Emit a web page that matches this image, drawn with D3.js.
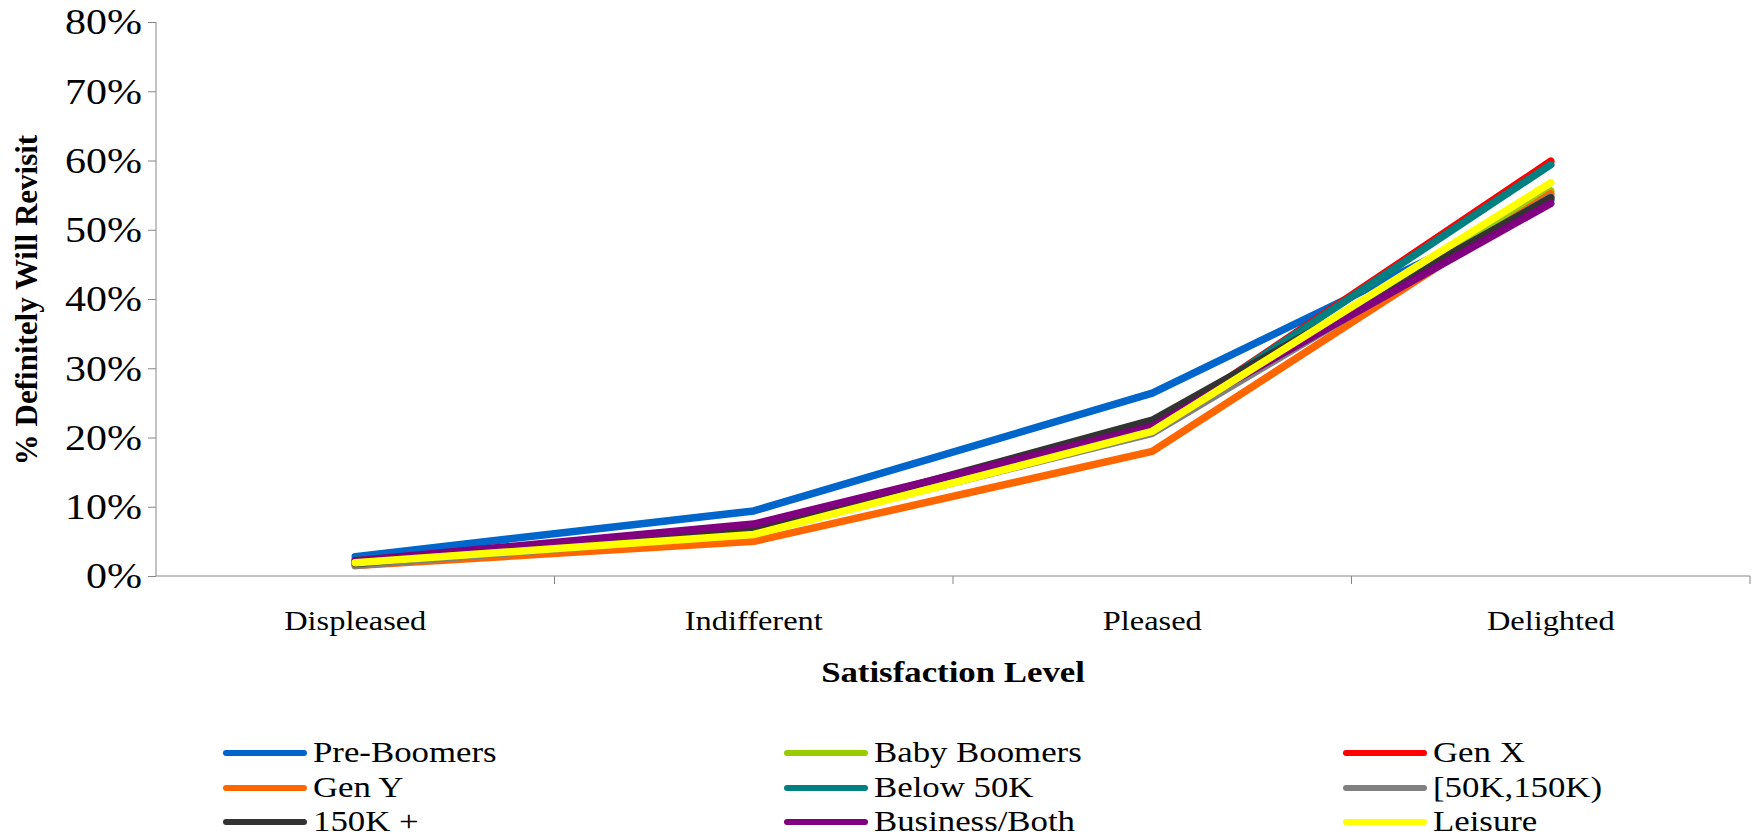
<!DOCTYPE html>
<html>
<head>
<meta charset="utf-8">
<script src="https://cdn.jsdelivr.net/npm/d3@7"></script>
<style>
  body { margin: 0; background: #fff; }
  text { font-family: "Liberation Serif", "Times New Roman", serif; fill: #000; }
  .domain, .tick line { stroke: #868686; }
</style>
</head>
<body>
<svg id="chart" width="1754" height="838"></svg>
<script>
const categories = ['Displeased', 'Indifferent', 'Pleased', 'Delighted'];
const yTicks = [0, 0.1, 0.2, 0.3, 0.4, 0.5, 0.6, 0.7, 0.8];

// series in legend / draw order
const seriesNames = ['Pre-Boomers', 'Baby Boomers', 'Gen X', 'Gen Y', 'Below 50K',
  '[50K,150K)', '150K +', 'Business/Both', 'Leisure'];
const seriesColors = ['#0066cc', '#99cc00', '#ff0000', '#ff6600', '#008080',
  '#808080', '#333333', '#800080', '#ffff00'];

const preBoomers   = [0.028, 0.094, 0.264, 0.543];
const babyBoomers  = [0.018, 0.065, 0.210, 0.556];
const genX         = [0.019, 0.066, 0.212, 0.599];
const genY         = [0.015, 0.050, 0.180, 0.552];
const below50K     = [0.023, 0.066, 0.212, 0.594];
const mid50to150K  = [0.015, 0.063, 0.206, 0.548];
const above150K    = [0.018, 0.068, 0.225, 0.546];
const businessBoth = [0.022, 0.075, 0.216, 0.538];
const leisure      = [0.019, 0.060, 0.209, 0.568];

const seriesValues = [preBoomers, babyBoomers, genX, genY, below50K,
  mid50to150K, above150K, businessBoth, leisure];

const sx = 1.2; // the original text is a bit wider than tall

const svg = d3.select('#chart');
const plotLeft = 156, plotRight = 1750, plotTop = 22, plotBottom = 576;

const xScale = d3.scaleBand().domain(categories).range([plotLeft, plotRight]);
const yScale = d3.scaleLinear().domain([0, 0.8]).range([plotBottom, plotTop]);

// y axis
const yAxisG = svg.append('g')
  .attr('transform', `translate(${plotLeft},0)`)
  .call(d3.axisLeft(yScale).tickValues(yTicks).tickSize(8).tickSizeOuter(0)
    .tickFormat(d3.format('.0%')));
yAxisG.selectAll('.tick text')
  .attr('x', -14 / sx)
  .attr('dy', '0.34em')
  .attr('transform', `scale(${sx},1)`)
  .style('font-size', '35px')
  .style('font-family', '"Liberation Serif", serif');
yAxisG.select('.domain').attr('d', `M0,${plotTop}V${plotBottom}`);

// x axis: ticks on category boundaries
const xAxisG = svg.append('g').attr('transform', `translate(0,${plotBottom})`);
xAxisG.append('line')
  .attr('x1', plotLeft).attr('x2', plotRight)
  .attr('stroke', '#868686');
const bounds = categories.map(c => xScale(c)).concat([xScale.range()[1]]);
xAxisG.selectAll('.xtick').data(bounds.slice(1)).enter().append('line')
  .attr('x1', d => d).attr('x2', d => d)
  .attr('y1', 0).attr('y2', 8)
  .attr('stroke', '#868686');
xAxisG.selectAll('.xlabel').data(categories).enter().append('text')
  .attr('transform', d => `translate(${xScale(d) + xScale.bandwidth() / 2},54) scale(${sx},1)`)
  .attr('text-anchor', 'middle')
  .style('font-size', '27px')
  .text(d => d);

// axis titles
svg.append('text')
  .attr('transform', `translate(${(plotLeft + plotRight) / 2},682) scale(${sx},1)`)
  .attr('text-anchor', 'middle')
  .style('font-size', '29px')
  .style('font-weight', 'bold')
  .text('Satisfaction Level');

svg.append('text')
  .attr('transform', `translate(37,300) rotate(-90)`)
  .attr('text-anchor', 'middle')
  .style('font-size', '31px')
  .style('font-weight', 'bold')
  .text('% Definitely Will Revisit');

// lines
const line = d3.line()
  .x((d, i) => xScale(categories[i]) + xScale.bandwidth() / 2)
  .y(d => yScale(d));

svg.append('g').selectAll('path').data(seriesValues).enter().append('path')
  .attr('d', d => line(d))
  .attr('fill', 'none')
  .attr('stroke', (d, i) => seriesColors[i])
  .attr('stroke-width', 7.5)
  .attr('stroke-linecap', 'round')
  .attr('stroke-linejoin', 'round');

// legend, 3 columns
const legendCols = [226, 787, 1346];
const legendRows = [753, 788, 822];
const legendG = svg.append('g');
const items = legendG.selectAll('g').data(seriesNames).enter().append('g')
  .attr('transform', (d, i) => `translate(${legendCols[i % 3]},${legendRows[Math.floor(i / 3)]})`);
items.append('line')
  .attr('x1', 0).attr('x2', 78)
  .attr('stroke', (d, i) => seriesColors[i])
  .attr('stroke-width', 6)
  .attr('stroke-linecap', 'round');
items.append('text')
  .attr('transform', `translate(87,9) scale(${sx},1)`)
  .style('font-size', '29px')
  .text(d => d);
</script>
</body>
</html>
